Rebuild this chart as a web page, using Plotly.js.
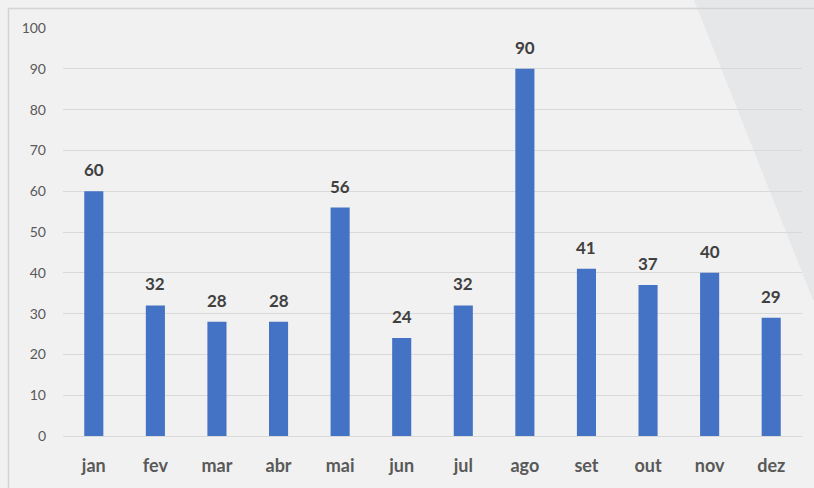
<!DOCTYPE html>
<html><head><meta charset="utf-8">
<script src="https://cdn.plot.ly/plotly-3.0.1.min.js"></script>
<style>html,body{margin:0;padding:0;background:#f1f1f1;}#chart{width:814px;height:488px;}</style>
</head><body><div id="chart"></div>
<script>
const months = ["jan","fev","mar","abr","mai","jun","jul","ago","set","out","nov","dez"];
const values = [60,32,28,28,56,24,32,90,41,37,40,29];
const yTicks = [0,10,20,30,40,50,60,70,80,90,100];

const font = "Lato, 'Open Sans', sans-serif";
const trace = {
  type: "bar", x: months, y: values,
  marker: {color: "#4472c4"},
  hoverinfo: "none"
};
const annotations = months.map((m,i)=>({
  x: m, y: values[i], text: String(values[i]), showarrow: false,
  yanchor: "bottom", yshift: 9,
  font: {family: font, size: 17, color: "#404040", weight: "bold"}
}));
const pw = 739, ph = 408;
const layout = {
  width: 814, height: 488,
  margin: {l: 63, r: 12, t: 28, b: 52},
  paper_bgcolor: "#f1f1f1", plot_bgcolor: "rgba(0,0,0,0)",
  bargap: 0.69,
  showlegend: false,
  xaxis: {
    type: "category", showgrid: false, zeroline: false, showline: false,
    ticks: "", tickfont: {family: font, size: 18, color: "#595959", weight: "bold"},
    ticklabelstandoff: 17
  },
  yaxis: {
    range: [0, 100], tickvals: yTicks, showgrid: true, gridcolor: "#d9d9d9", gridwidth: 1,
    zeroline: true, zerolinecolor: "#d9d9d9", zerolinewidth: 1, showline: false, ticks: "",
    tickfont: {family: font, size: 14, color: "#595959"}, ticklabelstandoff: 16
  },
  annotations: annotations,
  shapes: [
    {type: "path", xref: "paper", yref: "paper", layer: "below",
     path: `M ${(694-63)/pw} ${(436-0)/ph} L ${(820-63)/pw} ${(436-0)/ph} L ${(820-63)/pw} ${(436-305)/ph} L ${(813-63)/pw} ${(436-300)/ph} Z`,
     fillcolor: "#e6e7e9", line: {width: 0}},
    {type: "rect", xref: "paper", yref: "paper", layer: "below",
     x0: (8.5-63)/pw, x1: (830-63)/pw, y0: (436-500)/ph, y1: (436-8.5)/ph,
     line: {color: "#d4d4d4", width: 1.5}, fillcolor: "rgba(0,0,0,0)"}
  ]
};
Plotly.newPlot("chart", [trace], layout, {displayModeBar: false, staticPlot: true});
</script></body></html>
